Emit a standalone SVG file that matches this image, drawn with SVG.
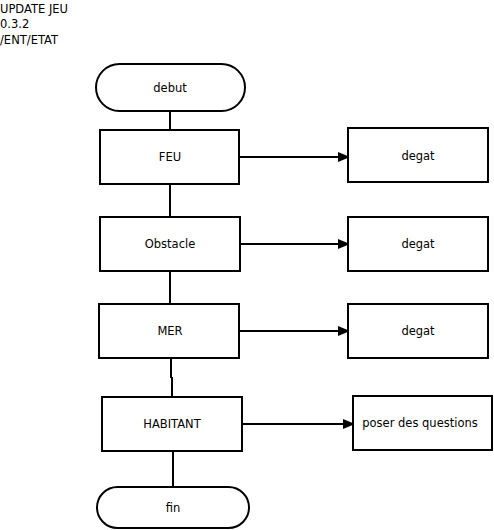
<svg xmlns="http://www.w3.org/2000/svg" width="494" height="530" viewBox="0 0 494 530">
<style>
.b{fill:#fff;stroke:#000;stroke-width:2}
.c{fill:none;stroke:#000;stroke-width:2}
text{font-family:"DejaVu Sans","Liberation Sans",sans-serif;font-size:11.5px;fill:#000}
.m{text-anchor:middle;dominant-baseline:central}
</style>
<defs>
<marker id="ah" markerWidth="12" markerHeight="10" refX="12" refY="5" orient="auto" markerUnits="userSpaceOnUse">
<path d="M0,0 L12,5 L0,10 Z" fill="#000"/>
</marker>
</defs>
<rect width="494" height="530" fill="#fff"/>
<g id="header">
<text x="0" y="13">UPDATE JEU</text>
<text x="0" y="28">0.3.2</text>
<text x="0" y="44">/ENT/ETAT</text>
</g>
<g id="connectors">
<path class="c" d="M170,111 V130"/>
<path class="c" d="M170,184 V217"/>
<path class="c" d="M170,271 V304"/>
<path class="c" d="M171,358 V378"/>
<path class="c" d="M172,377 V397"/>
<path class="c" d="M173,451 V487"/>
<path class="c" d="M239,157 H350" marker-end="url(#ah)"/>
<path class="c" d="M240,244 H350" marker-end="url(#ah)"/>
<path class="c" d="M239,331 H350" marker-end="url(#ah)"/>
<path class="c" d="M242,424 H355" marker-end="url(#ah)"/>
</g>
<g id="debut"><rect class="b" x="96" y="64" width="149" height="47" rx="23.5"/><text class="m" x="170" y="88">debut</text></g>
<g id="feu"><rect class="b" x="100" y="130" width="139" height="54"/><text class="m" x="170" y="157">FEU</text></g>
<g id="obstacle"><rect class="b" x="100" y="217" width="140" height="54"/><text class="m" x="170" y="244">Obstacle</text></g>
<g id="mer"><rect class="b" x="99" y="304" width="140" height="54"/><text class="m" x="170" y="331">MER</text></g>
<g id="habitant"><rect class="b" x="102" y="397" width="140" height="54"/><text class="m" x="172" y="424">HABITANT</text></g>
<g id="fin"><rect class="b" x="97" y="487" width="152" height="41" rx="20.5"/><text class="m" x="173" y="508">fin</text></g>
<g id="degat1"><rect class="b" x="348" y="128" width="140" height="54"/><text class="m" x="418" y="156">degat</text></g>
<g id="degat2"><rect class="b" x="348" y="217" width="140" height="54"/><text class="m" x="418" y="244">degat</text></g>
<g id="degat3"><rect class="b" x="348" y="304" width="140" height="54"/><text class="m" x="418" y="331">degat</text></g>
<g id="poser"><rect class="b" x="353" y="396" width="139" height="54"/><text class="m" x="420" y="423">poser des questions</text></g>
</svg>
